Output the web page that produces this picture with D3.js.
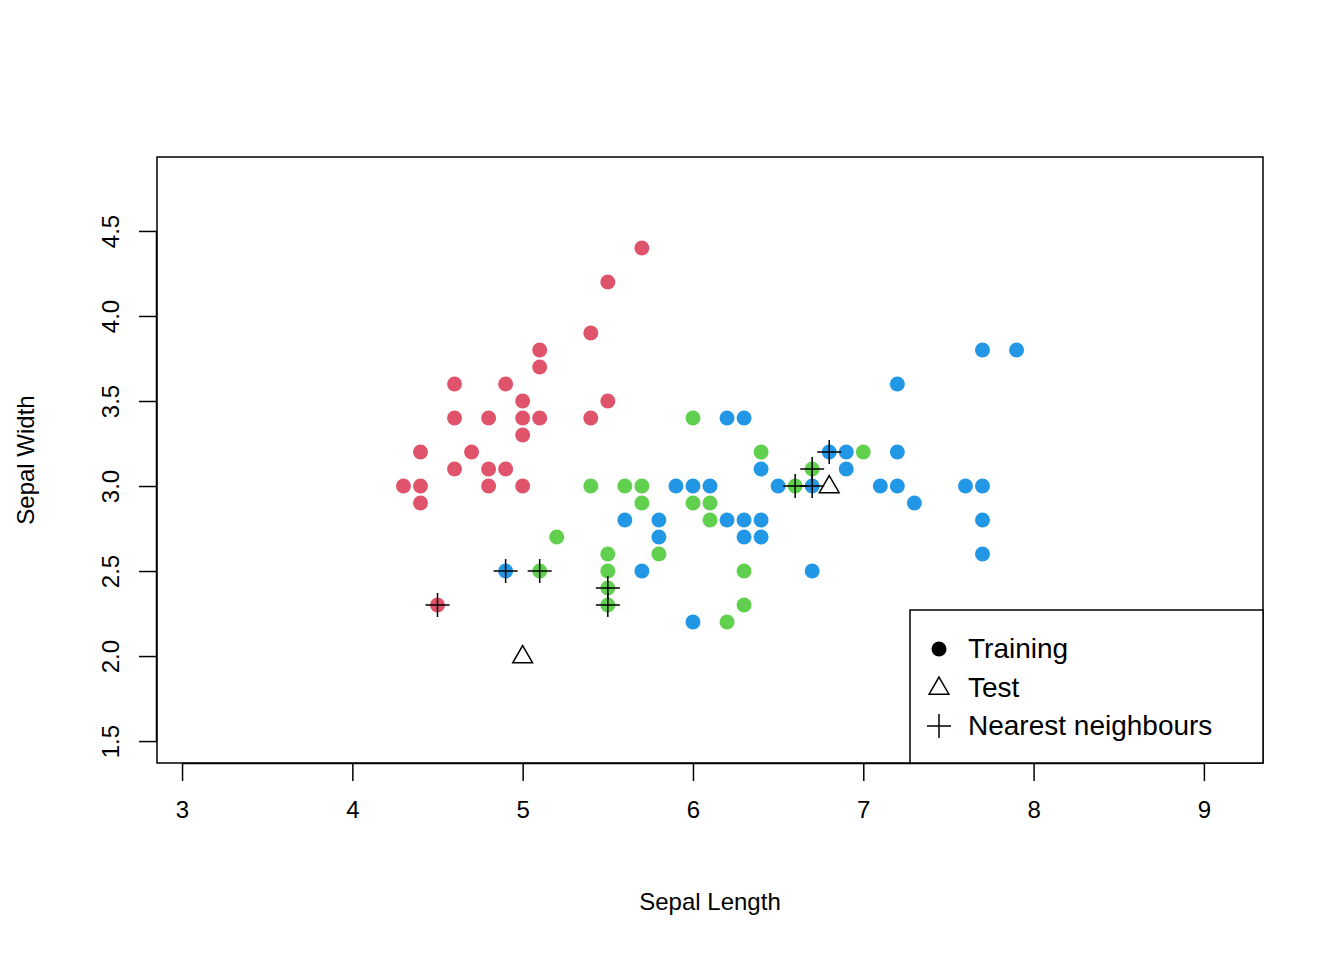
<!DOCTYPE html>
<html><head><meta charset="utf-8">
<script src="https://cdn.jsdelivr.net/npm/d3@7"></script>
<style>body{margin:0;background:#fff}text{font-family:"Liberation Sans",Arial,sans-serif}</style>
</head><body><div id="chart"></div>
<script>
const setosa = [[5.7,4.4],[5.5,4.2],[5.4,3.9],[5.1,3.8],[5.1,3.7],[4.6,3.6],[4.9,3.6],[5.0,3.5],[5.5,3.5],[4.6,3.4],[4.8,3.4],[5.0,3.4],[5.1,3.4],[5.4,3.4],[5.0,3.3],[4.4,3.2],[4.7,3.2],[4.6,3.1],[4.8,3.1],[4.9,3.1],[4.3,3.0],[4.4,3.0],[4.8,3.0],[5.0,3.0],[4.4,2.9],[4.5,2.3]];
const versicolor = [[6.0,3.4],[6.4,3.2],[7.0,3.2],[6.7,3.1],[5.4,3.0],[5.6,3.0],[5.7,3.0],[6.6,3.0],[5.7,2.9],[6.0,2.9],[6.1,2.9],[6.1,2.8],[5.2,2.7],[5.5,2.6],[5.8,2.6],[5.1,2.5],[5.5,2.5],[6.3,2.5],[5.5,2.4],[5.5,2.3],[6.3,2.3],[6.2,2.2]];
const virginica = [[7.7,3.8],[7.9,3.8],[7.2,3.6],[6.2,3.4],[6.3,3.4],[6.8,3.2],[6.9,3.2],[7.2,3.2],[6.4,3.1],[6.9,3.1],[5.9,3.0],[6.0,3.0],[6.1,3.0],[6.5,3.0],[6.7,3.0],[7.1,3.0],[7.2,3.0],[7.6,3.0],[7.7,3.0],[7.3,2.9],[5.6,2.8],[5.8,2.8],[6.2,2.8],[6.3,2.8],[6.4,2.8],[7.7,2.8],[5.8,2.7],[6.3,2.7],[6.4,2.7],[4.9,2.5],[5.7,2.5],[6.7,2.5],[7.7,2.6],[6.0,2.2]];
const test = [[5.0,2.0],[6.8,3.0]];
const neighbours = [[4.5,2.3],[4.9,2.5],[5.1,2.5],[5.5,2.4],[5.5,2.3],[6.6,3.0],[6.7,3.0],[6.7,3.1],[6.8,3.2]];
const xTicks = [3,4,5,6,7,8,9];
const yTicks = [1.5,2.0,2.5,3.0,3.5,4.0,4.5];
const legendLabels = ["Training","Test","Nearest neighbours"];

const W = 1344, H = 960;
const L = 157, R = 1263, T = 157, B = 763;
const svg = d3.select("#chart").append("svg").attr("width", W).attr("height", H);
const x = d3.scaleLinear().domain([2.853, 9.347]).range([L, R]);
const y = d3.scaleLinear().domain([1.371, 4.935]).range([B, T]);

const groups = [[setosa,"#DF536B"],[versicolor,"#61D04F"],[virginica,"#2297E6"]];
groups.forEach(([d,c]) => {
  svg.append("g").selectAll("circle").data(d).join("circle")
    .attr("cx", p => x(p[0])).attr("cy", p => y(p[1])).attr("r", 7.5).attr("fill", c);
});
const tri = d3.symbol().type(d3.symbolTriangle).size(170);
svg.append("g").selectAll("path").data(test).join("path")
  .attr("d", tri).attr("transform", p => `translate(${x(p[0])},${y(p[1])+1})`)
  .attr("fill","none").attr("stroke","#000").attr("stroke-width",1.5);
svg.append("g").selectAll("path").data(neighbours).join("path")
  .attr("d", p => `M${x(p[0])-12},${y(p[1])}h24M${x(p[0])},${y(p[1])-12}v24`)
  .attr("stroke","#000").attr("stroke-width",1.5);

svg.append("rect").attr("x",L).attr("y",T).attr("width",R-L).attr("height",B-T)
  .attr("fill","none").attr("stroke","#000").attr("stroke-width",1.5);

const xa = svg.append("g").attr("transform",`translate(0,${B})`)
  .call(d3.axisBottom(x).tickValues(xTicks).tickSize(18).tickPadding(20).tickFormat(d3.format("d")));
xa.select(".domain").attr("d",`M${x(3)},0.5H${x(9)}`).attr("stroke-width",1.5);
const ya = svg.append("g").attr("transform",`translate(${L},0)`)
  .call(d3.axisLeft(y).tickValues(yTicks).tickSize(18).tickFormat(d3.format(".1f")));
ya.select(".domain").attr("d",`M-0.5,${y(1.5)}V${y(4.5)}`).attr("stroke-width",1.5);
[xa,ya].forEach(a => { a.selectAll("line").attr("stroke-width",1.5); a.selectAll("text").attr("font-size",24).attr("fill","#000"); });
ya.selectAll(".tick text").attr("transform","rotate(-90)").attr("x",0).attr("y",-38).attr("text-anchor","middle").attr("dy","0");

svg.append("text").attr("x",(L+R)/2).attr("y",910).attr("text-anchor","middle").attr("font-size",24).text("Sepal Length");
svg.append("text").attr("transform",`translate(34,${(T+B)/2}) rotate(-90)`).attr("text-anchor","middle").attr("font-size",24).text("Sepal Width");

const lg = svg.append("g");
lg.append("rect").attr("x",910).attr("y",610).attr("width",R-910).attr("height",B-610)
  .attr("fill","#fff").attr("stroke","#000").attr("stroke-width",1.5);
legendLabels.forEach((t,i) => {
  const cy = 649 + i*38.5, cx = 939;
  if (i===0) lg.append("circle").attr("cx",cx).attr("cy",cy).attr("r",7.5);
  if (i===1) lg.append("path").attr("d",tri).attr("transform",`translate(${cx},${cy+1})`).attr("fill","none").attr("stroke","#000").attr("stroke-width",1.5);
  if (i===2) lg.append("path").attr("d",`M${cx-12},${cy}h24M${cx},${cy-12}v24`).attr("stroke","#000").attr("stroke-width",1.5);
  lg.append("text").attr("x",968).attr("y",cy+9).attr("font-size",28).text(t);
});
</script></body></html>
